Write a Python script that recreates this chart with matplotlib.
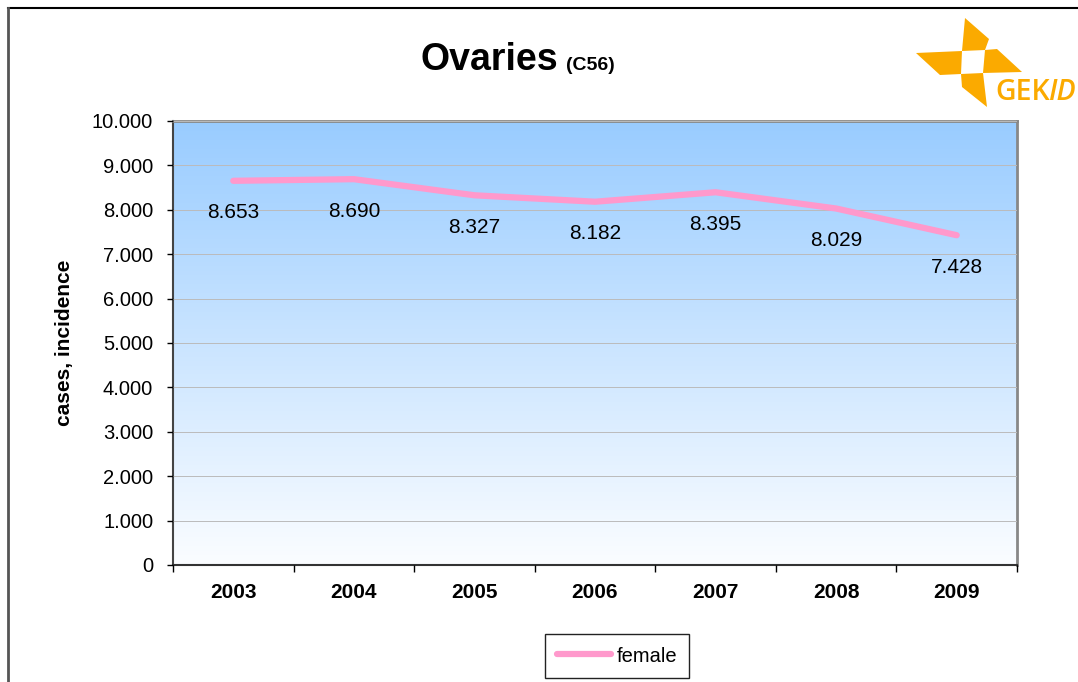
import numpy as np
import matplotlib.pyplot as plt
from matplotlib.patches import Polygon
from matplotlib.lines import Line2D
from matplotlib.ticker import FuncFormatter

# data
years = ['2003', '2004', '2005', '2006', '2007', '2008', '2009']
female = [8653, 8690, 8327, 8182, 8395, 8029, 7428]

W, H = 1078, 682
plt.rcParams['font.family'] = ['Liberation Sans', 'DejaVu Sans']

fig = plt.figure(figsize=(W / 100, H / 100), dpi=100)


def px(x, y):
    # pixel coords (top-left origin) -> figure fraction
    return (x / W, 1 - y / H)


# outer frame (only top and left visible)
fig.add_artist(Line2D([8 / W, 1], [1 - 8 / H] * 2, transform=fig.transFigure, color='black', lw=1.5))
fig.add_artist(Line2D([8 / W] * 2, [0, 1 - 8 / H], transform=fig.transFigure, color='#555555', lw=2))

left, top, right, bottom = 173, 121, 1017, 565
ax = fig.add_axes([left / W, 1 - bottom / H, (right - left) / W, (bottom - top) / H])

# gradient background
grad = np.linspace(0, 1, 256).reshape(-1, 1)
c_top = np.array([0x99, 0xCC, 0xFF]) / 255
c_bot = np.array([0xFB, 0xFD, 0xFF]) / 255
img = c_bot + (c_top - c_bot) * grad[..., None]
ax.imshow(img, extent=[0, 7, 0, 10000], origin='lower', aspect='auto', zorder=0)

ax.set_xlim(0, 7)
ax.set_ylim(0, 10000)

x = np.arange(len(years)) + 0.5
ax.plot(x, female, color='#FF99CC', lw=4.5, solid_capstyle='round', solid_joinstyle='round', zorder=3)

fmt = lambda v: f"{v:,.0f}".replace(',', '.')
for xi, v in zip(x, female):
    ax.annotate(fmt(v), (xi, v), xytext=(0, -23), textcoords='offset points',
                ha='center', va='center', fontsize=15, zorder=4)

ax.set_yticks(np.arange(0, 10001, 1000))
ax.yaxis.set_major_formatter(FuncFormatter(lambda v, p: fmt(v)))
ax.grid(axis='y', color='#bbbbbb', lw=0.7, zorder=1)
ax.set_axisbelow(False)
ax.tick_params(axis='y', length=4.3, width=1, labelsize=14.5, pad=10)

ax.set_xticks(np.arange(0, 8))
ax.set_xticklabels([])
ax.set_xticks(x, minor=True)
ax.set_xticklabels(years, minor=True, fontweight='bold', fontsize=15)
ax.tick_params(axis='x', which='major', length=5, width=1)
ax.tick_params(axis='x', which='minor', length=0, pad=13)

for s in ['top', 'right']:
    ax.spines[s].set_color('#888888')
    ax.spines[s].set_linewidth(2)
ax.spines['left'].set_color('#444444')
ax.spines['left'].set_linewidth(1.5)
ax.spines['bottom'].set_color('#333333')
ax.spines['bottom'].set_linewidth(1.5)

ax.set_ylabel('cases, incidence', fontweight='bold', fontsize=15, labelpad=13)

# title
fig.text(*px(421, 70), 'Ovaries', fontsize=27, fontweight='bold', ha='left', va='baseline')
fig.text(*px(566, 70), '(C56)', fontsize=14, fontweight='bold', ha='left', va='baseline')

# logo
orange = '#FBAA00'
blades = [
    [(965, 18), (989, 39), (985, 50), (962, 51)],
    [(985, 50), (997, 49), (1022, 72), (983, 73)],
    [(916, 53), (962, 51), (961, 74), (940, 75)],
    [(961, 74), (983, 73), (987, 107), (962, 87)],
]
for b in blades:
    fig.add_artist(Polygon([px(*p) for p in b], closed=True, transform=fig.transFigure,
                           facecolor=orange, edgecolor='none'))
fig.text(*px(995, 100), 'GEK', fontsize=20.5, color=orange, family='Open Sans', fontweight='semibold',
         ha='left', va='baseline')
fig.text(*px(1048, 100), 'ID', fontsize=20.5, color=orange, family='Open Sans', fontweight='semibold',
         style='italic', ha='left', va='baseline')

# legend
handle = Line2D([], [], color='#FF99CC', lw=4.5, solid_capstyle='round')
leg = fig.legend([handle], ['female'], loc='center', bbox_to_anchor=px(617, 656),
                 fontsize=14.5, frameon=True, fancybox=False, framealpha=1,
                 edgecolor='#222222', handlelength=2.7, handletextpad=0.25,
                 borderpad=0.6, borderaxespad=0)
leg.get_frame().set_linewidth(1)

fig.savefig('out.png', dpi=100)
